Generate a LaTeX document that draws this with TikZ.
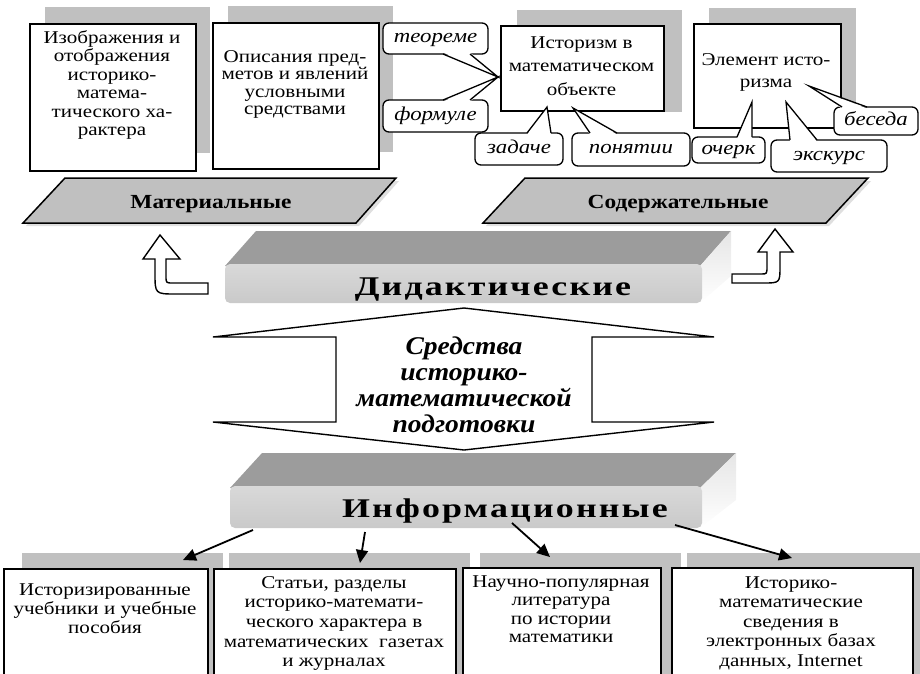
\documentclass[tikz,border=0pt]{standalone}
\usepackage{fontspec}
\setmainfont{Liberation Serif}[FakeStretch=1.17]
\newfontfamily\barfont{Liberation Serif Bold}[FakeStretch=1.33,LetterSpace=8]
\newfontfamily\midfont{Liberation Serif Bold Italic}[FakeStretch=1.08]
\usetikzlibrary{arrows.meta}
\definecolor{shgray}{HTML}{C0C0C0}
\definecolor{pgray}{HTML}{C0C0C0}
\definecolor{topgray}{HTML}{9C9C9C}
\tikzset{
  shadowbox/.style={fill=shgray,draw=none},
  txtbox/.style={draw,line width=1.6pt,fill=white},
  btxt/.style={anchor=base,inner sep=0pt,font=\fontsize{18}{18.5}\selectfont},
  co/.style={draw,line width=1.3pt,rounded corners=6pt,fill=white,inner sep=0pt,
     font=\fontsize{19.5}{21}\selectfont\itshape,text height=12pt,text depth=4pt},
  wedgeline/.style={line width=1.3pt,line join=miter},
  parbox/.style={draw,line width=1.5pt,fill=pgray,line join=miter},
  partxt/.style={anchor=base,inner sep=0pt,font=\fontsize{20}{22}\selectfont\bfseries},
  conn/.style={line width=1.8pt,-{Triangle[length=13pt,width=12pt]}},
  blockarrow/.style={draw,line width=1.4pt,fill=white,line join=miter},
  bartxt/.style={anchor=base,inner sep=0pt,font=\fontsize{27}{29}\barfont},
}
\newcommand\lines[2]{\parbox[t]{#1}{\centering #2}}
\begin{document}
\begin{tikzpicture}[x=1pt,y=-1pt]
\useasboundingbox (0,0) rectangle (920,673);
\clip (0,0) rectangle (920,673);

% ---------- top boxes ----------
\fill[shadowbox] (45,7) rectangle (210,153);
\node[txtbox,minimum width=166pt,minimum height=147pt,anchor=north west] (b1) at (29,23) {};
\node[btxt] (t1) at (112,43) {\lines{250pt}{Изображения и\\отображения\\историко-\\матема-\\тического ха-\\рактера}};

\fill[shadowbox] (228,6) rectangle (393,152);
\node[txtbox,minimum width=166pt,minimum height=146pt,anchor=north west] (b2) at (212,22) {};
\node[btxt] (t2) at (295,62) {\fontsize{18}{17.6}\selectfont\lines{250pt}{Описания пред-\\метов и явлений\\условными\\средствами}};

\fill[shadowbox] (517,10) rectangle (682,112);
\node[txtbox,minimum width=163pt,minimum height=85pt,anchor=north west] (b3) at (500,25) {};
\node[btxt] (t3) at (581.5,48) {\fontsize{18}{23.5}\selectfont\lines{250pt}{Историзм в\\математическом\\объекте}};

\fill[shadowbox] (709,8) rectangle (856,118);
\node[txtbox,minimum width=147pt,minimum height=104pt,anchor=north west] (b4) at (693,23) {};
\node[btxt] (t4) at (766,65) {\fontsize{18}{22}\selectfont\lines{250pt}{Элемент исто-\\ризма}};

% ---------- callouts ----------
\node[co,minimum width=105pt,minimum height=31pt] (c1) at (435.5,38.5) {теореме};
\fill[white] (443,52.5) -- (498,77) -- (470,52.5) -- cycle;
\draw[wedgeline] (443,54) -- (498,77) -- (470,54);
\node[co,minimum width=105pt,minimum height=32pt] (c2) at (435.5,116) {формуле};
\fill[white] (443,101.5) -- (498,77) -- (470,101.5) -- cycle;
\draw[wedgeline] (443,100) -- (498,77) -- (470,100);
\node[co,minimum width=88pt,minimum height=32pt] (c3) at (519,149) {задаче};
\fill[white] (527,134.5) -- (547,107) -- (551,134.5) -- cycle;
\draw[wedgeline] (527,133) -- (547,107) -- (551,133);
\node[co,minimum width=118pt,minimum height=33pt] (c4) at (631,149.5) {понятии};
\fill[white] (590,134.5) -- (573,108) -- (617,134.5) -- cycle;
\draw[wedgeline] (590,133) -- (573,108) -- (617,133);
\node[co,minimum width=73pt,minimum height=26pt] (c5) at (728.5,150) {очерк};
\fill[white] (737,138.5) -- (752,102) -- (752,138.5) -- cycle;
\draw[wedgeline] (737,137) -- (752,102) -- (752,137);
\node[co,minimum width=116pt,minimum height=32pt] (c6) at (829,156) {экскурс};
\fill[white] (790,141.5) -- (786,102) -- (817,141.5) -- cycle;
\draw[wedgeline] (790,140) -- (786,102) -- (817,140);
\node[co,minimum width=84pt,minimum height=28pt] (c7) at (876,121) {беседа};
\fill[white] (842,108.5) -- (809,86) -- (867,108.5) -- cycle;
\draw[wedgeline] (842,107) -- (809,86) -- (867,107);

% ---------- parallelograms ----------
\fill[gray!25] (67,181) -- (399,181) -- (359,226) -- (26,226) -- cycle;
\draw[parbox] (65,178) -- (396,178) -- (356,223) -- (23,223) -- cycle;
\node[partxt] (mat) at (211,208) {Материальные};
\fill[gray!25] (528,181) -- (871,181) -- (829,226) -- (486,226) -- cycle;
\draw[parbox] (525,178) -- (868,178) -- (826,223) -- (483,223) -- cycle;
\node[partxt] (sod) at (678,208) {Содержательные};

% ---------- curved block arrows ----------
\draw[blockarrow] (160,235) -- (180,259) -- (166,259) -- (166,276)
  .. controls (166,283) .. (173,283) -- (208,283) -- (208,294) -- (176,294)
  .. controls (155,294) .. (155,273) -- (155,259) -- (143,259) -- cycle;
\draw[blockarrow] (775,229) -- (793,252) -- (780,252) -- (780,266)
  .. controls (780,283) .. (763,283) -- (732,283) -- (732,274) -- (761,274)
  .. controls (767,274) .. (767,266) -- (767,252) -- (758,252) -- cycle;

% ---------- Дидактические bar ----------
\fill[topgray] (225,266) -- (256,231) -- (731,231) -- (700,266) -- cycle;
\shade[top color=gray!20,bottom color=white] (700,266) -- (731,231) -- (731,276) -- (700,303) -- cycle;
\shade[top color=gray!30,bottom color=gray!42,rounded corners=5pt] (225,264) rectangle (702,303);
\node[bartxt] (did) at (493,295) {Дидактические};

% ---------- double arrow ----------
\draw[blockarrow] (464,308) -- (714,337) -- (592,337) -- (592,422) -- (714,422)
  -- (464,450) -- (213,422) -- (336,422) -- (336,337) -- (213,337) -- cycle;
\node[anchor=base,inner sep=0pt,font=\fontsize{25.5}{26}\midfont] (sred) at (464,354)
  {\lines{250pt}{Средства\\историко-\\математической\\подготовки}};

% ---------- Информационные bar ----------
\fill[topgray] (230,488) -- (262,453) -- (736,453) -- (700,488) -- cycle;
\shade[top color=gray!20,bottom color=white] (700,488) -- (736,453) -- (736,500) -- (700,528) -- cycle;
\shade[top color=gray!30,bottom color=gray!42,rounded corners=5pt] (230,486) rectangle (702,528);
\node[bartxt] (inf) at (505,517) {Информационные};

% ---------- bottom boxes ----------
\fill[shadowbox] (22,553) rectangle (223,680);
\fill[shadowbox] (229,553) rectangle (470,680);
\fill[shadowbox] (480,553) rectangle (681,680);
\fill[shadowbox] (687,553) rectangle (925,680);
\node[txtbox,line width=1.7pt,minimum width=204pt,minimum height=130pt,anchor=north west] (d1) at (3,568) {};
\node[txtbox,line width=1.7pt,minimum width=242pt,minimum height=130pt,anchor=north west] (d2) at (213,568) {};
\node[txtbox,line width=1.7pt,minimum width=198pt,minimum height=130pt,anchor=north west] (d3) at (462,567) {};
\node[txtbox,line width=1.7pt,minimum width=241pt,minimum height=130pt,anchor=north west] (d4) at (671,567) {};
\node[btxt] (u1) at (105,595) {\fontsize{18}{19.3}\selectfont\lines{250pt}{Историзированные\\учебники и учебные\\пособия}};
\node[btxt] (u2) at (334,588) {\fontsize{18}{19.7}\selectfont\lines{260pt}{Статьи, разделы\\историко-математи-\\ческого характера в\\математических \ газетах\\и журналах}};
\node[btxt] (u3) at (561,587) {\fontsize{18}{18.5}\selectfont\lines{250pt}{Научно-популярная\\литература\\по истории\\математики}};
\node[btxt] (u4) at (791,588) {\fontsize{18}{19.5}\selectfont\lines{250pt}{Историко-\\математические\\сведения в\\электронных базах\\данных, Internet}};

% ---------- connectors ----------
\coordinate (s1) at (253,530); \coordinate (e1) at (183,560);
\coordinate (s2) at (365,532); \coordinate (e2) at (360,563);
\coordinate (s3) at (512,523); \coordinate (e3) at (550,557);
\coordinate (s4) at (675,525); \coordinate (e4) at (792,558);
\draw[conn] (s1) -- (e1);
\draw[conn] (s2) -- (e2);
\draw[conn] (s3) -- (e3);
\draw[conn] (s4) -- (e4);
\end{tikzpicture}
\end{document}
